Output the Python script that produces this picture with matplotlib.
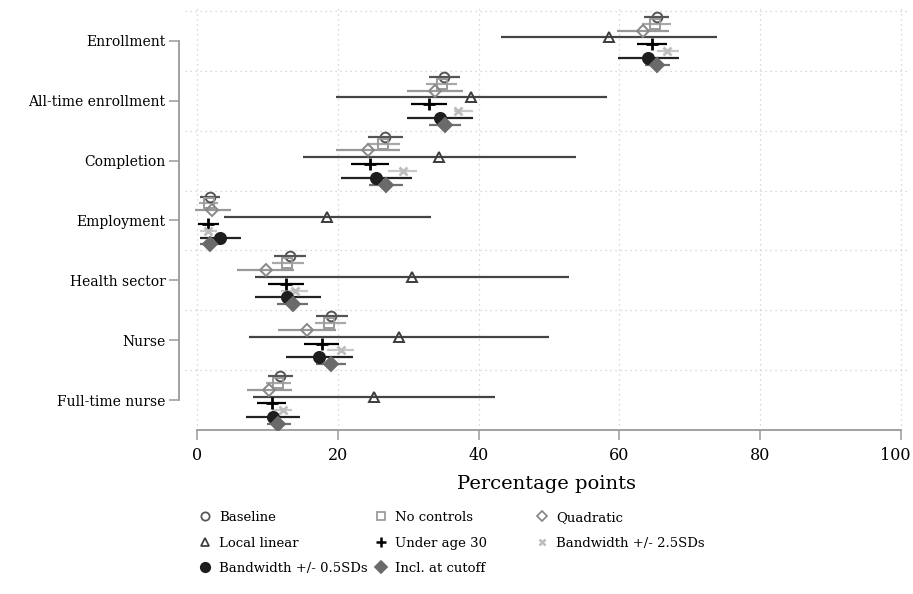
import matplotlib
matplotlib.use("Agg")
import matplotlib.pyplot as plt
import matplotlib.transforms as mtransforms
from matplotlib.lines import Line2D
import numpy as np

plt.rcParams['font.family'] = ['DejaVu Serif']

outcomes = ['Enrollment', 'All-time enrollment', 'Completion', 'Employment',
            'Health sector', 'Nurse', 'Full-time nurse']

# point estimates and 95% CI bounds, one list per specification (percentage points)
baseline = [65.4, 35.1, 26.7, 1.8, 13.2, 19.0, 11.8]
baseline_lo = [63.5, 33.0, 24.3, 0.5, 11.0, 16.9, 10.1]
baseline_hi = [67.0, 37.4, 29.2, 3.3, 15.5, 21.4, 13.6]

no_controls = [65.0, 34.8, 26.4, 1.7, 12.8, 18.8, 11.5]
no_controls_lo = [63.2, 32.5, 24.1, 0.3, 10.6, 16.8, 9.8]
no_controls_hi = [67.3, 37.0, 28.8, 3.0, 15.2, 21.1, 13.3]

quadratic = [63.3, 33.8, 24.3, 2.1, 9.8, 15.6, 10.3]
quadratic_lo = [59.7, 29.8, 19.8, -0.3, 5.7, 11.5, 7.1]
quadratic_hi = [67.1, 37.8, 28.8, 4.8, 13.8, 19.8, 13.5]

local_linear = [58.5, 38.9, 34.4, 18.5, 30.5, 28.7, 25.2]
local_linear_lo = [43.2, 19.7, 15.0, 3.9, 8.2, 7.4, 8.0]
local_linear_hi = [73.9, 58.3, 53.9, 33.3, 52.8, 50.0, 42.4]

under_30 = [64.6, 32.9, 24.6, 1.5, 12.6, 17.7, 10.6]
under_30_lo = [62.5, 30.4, 21.9, 0.2, 10.1, 15.2, 8.6]
under_30_hi = [66.8, 35.5, 27.3, 3.2, 15.2, 20.2, 12.6]

bw_25 = [66.8, 37.1, 29.2, 1.6, 13.9, 20.4, 12.2]
bw_25_lo = [65.3, 36.5, 27.2, 0.4, 11.9, 18.5, 10.6]
bw_25_hi = [68.5, 39.2, 31.3, 2.9, 15.8, 22.3, 13.5]

bw_05 = [64.1, 34.5, 25.5, 3.3, 12.8, 17.4, 10.8]
bw_05_lo = [59.8, 29.8, 20.4, 0.4, 8.2, 12.6, 7.0]
bw_05_hi = [68.5, 39.2, 30.6, 6.2, 17.6, 22.2, 14.6]

incl_cutoff = [65.4, 35.2, 26.9, 1.9, 13.6, 19.0, 11.5]
incl_cutoff_lo = [63.6, 33.0, 24.5, 0.5, 11.3, 16.9, 10.0]
incl_cutoff_hi = [67.2, 37.5, 29.2, 3.2, 15.8, 21.2, 13.3]

x_ticks = [0, 20, 40, 60, 80, 100]

# (label, estimates, lo, hi, marker, marker colour, filled, line colour, marker size)
specs = [
    ('Baseline', baseline, baseline_lo, baseline_hi, 'o', '#555555', False, '#555555', 7),
    ('No controls', no_controls, no_controls_lo, no_controls_hi, 's', '#9a9a9a', False, '#a8a8a8', 6.5),
    ('Quadratic', quadratic, quadratic_lo, quadratic_hi, 'D', '#888888', False, '#999999', 6),
    ('Local linear', local_linear, local_linear_lo, local_linear_hi, '^', '#3c3c3c', False, '#444444', 7),
    ('Under age 30', under_30, under_30_lo, under_30_hi, '+', '#000000', True, '#000000', 8),
    ('Bandwidth +/- 2.5SDs', bw_25, bw_25_lo, bw_25_hi, 'x', '#bdbdbd', True, '#c8c8c8', 5.5),
    ('Bandwidth +/- 0.5SDs', bw_05, bw_05_lo, bw_05_hi, 'o', '#1e1e1e', True, '#222222', 8),
    ('Incl. at cutoff', incl_cutoff, incl_cutoff_lo, incl_cutoff_hi, 'D', '#6a6a6a', True, '#707070', 7),
]

fig = plt.figure(figsize=(9.13, 5.94), dpi=100)
ax = fig.add_axes([0.2026, 0.2761, 0.792, 0.7155])

group_pos = np.arange(1, len(outcomes) + 1)
step = 0.114
handles = []
for k, (label, est, lo, hi, mk, mcol, filled, lcol, ms) in enumerate(specs):
    y = group_pos + (k - 3.5) * step
    ax.hlines(y, lo, hi, color=lcol, linewidth=1.6, zorder=2)
    face = mcol if filled else 'none'
    mew = 2.0 if mk in ('+', 'x') else 1.4
    ax.plot(est, y, linestyle='none', marker=mk, markersize=ms, markerfacecolor=face,
            markeredgecolor=mcol, markeredgewidth=mew, zorder=3)
    handles.append(Line2D([], [], linestyle='none', marker=mk, markersize=ms * 0.85,
                          markerfacecolor=face, markeredgecolor=mcol,
                          markeredgewidth=mew * 0.9, label=label))

ax.set_xlim(-1.7, 101)
ax.set_ylim(7.5, 0.4)

# dotted grid: vertical at x ticks, horizontal between outcome groups
for xv in x_ticks:
    ax.axvline(xv, color='#cccccc', linestyle=(0, (1, 3)), linewidth=0.9, zorder=0)
for yv in np.arange(0.5, 7.0, 1.0):
    ax.axhline(yv, color='#cccccc', linestyle=(0, (1, 3)), linewidth=0.9, zorder=0)

ax.set_yticks(group_pos)
ax.set_yticklabels(outcomes, fontsize=12)
ax.set_xticks(x_ticks)
ax.set_xticklabels([str(v) for v in x_ticks], fontsize=11.5)
ax.tick_params(axis='both', direction='out', length=7, width=1.1, color='#9a9a9a')
ax.tick_params(axis='y', pad=3)
ax.tick_params(axis='x', pad=5)

# nudge the last tick label so it stays inside the figure
last = ax.get_xticklabels()[-1]
last.set_transform(last.get_transform() +
                   mtransforms.ScaledTranslation(-4 / 72, 0, fig.dpi_scale_trans))

for side in ('top', 'right'):
    ax.spines[side].set_visible(False)
ax.spines['left'].set_position(('outward', 4))
ax.spines['left'].set_bounds(1, 7)
ax.spines['bottom'].set_bounds(0, 100)
for side in ('left', 'bottom'):
    ax.spines[side].set_color('#9a9a9a')
    ax.spines[side].set_linewidth(1.3)

ax.set_xlabel('Percentage points', fontsize=14, labelpad=8)

# legend laid out as three columns, filled row by row
columns = [[0, 3, 6], [1, 4, 7], [2, 5]]
col_x = [0.2169, 0.4097, 0.5860]
for idx, cx in zip(columns, col_x):
    fig.legend([handles[i] for i in idx], [specs[i][0] for i in idx],
               loc='upper left', bbox_to_anchor=(cx, 0.1397), frameon=False,
               fontsize=9.5, handlelength=1.0, handletextpad=0.6,
               labelspacing=0.95, borderaxespad=0, borderpad=0)

fig.savefig('out.png', dpi=100)
